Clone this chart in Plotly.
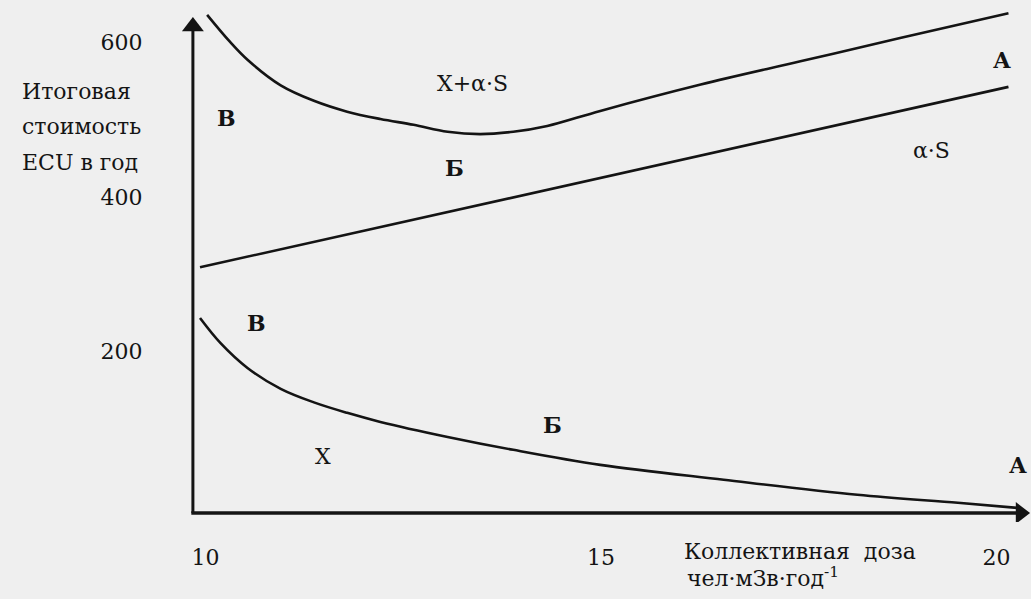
import plotly.graph_objects as go

# Collective dose, person·mSv per year (x) and cost, ECU per year (y)
dose_total = [10.02, 10.31, 10.53, 10.95, 11.37, 11.79, 12.21, 12.63, 13.06,
              13.47, 13.89, 14.32, 14.99, 16.26, 17.52, 18.78, 20.15]
cost_total = [635, 600, 577, 544, 524, 510, 500.5, 493, 484,
              481, 484, 491.5, 511, 545, 575, 605, 637]

dose_detriment = [9.93, 20.15]
cost_detriment = [309, 542]

dose_protection = [9.93, 10.19, 10.53, 10.95, 11.37, 11.79, 12.21, 13.06,
                   13.89, 14.99, 16.55, 18.24, 19.51, 20.26]
cost_protection = [243.5, 211, 179, 152, 134.5, 121, 109.3, 89.9,
                   73.2, 53.8, 34.5, 15.1, 4.8, -1.7]

x_ticks = [10, 15, 20]
y_ticks = [200, 400, 600]

x_axis_title = ["Коллективная  доза", "чел·мЗв·год<sup>-1</sup>"]
y_axis_title = ["Итоговая", "стоимость", "ECU в год"]

INK = "#141414"
SERIF = "DejaVu Serif"

fig = go.Figure()
for xs, ys, shape in [(dose_total, cost_total, "spline"),
                      (dose_detriment, cost_detriment, "linear"),
                      (dose_protection, cost_protection, "spline")]:
    fig.add_trace(go.Scatter(x=xs, y=ys, mode="lines",
                             line=dict(color=INK, width=2.6, shape=shape, smoothing=1.0),
                             hoverinfo="skip", showlegend=False))

# axes: two lines meeting at the corner, each capped by a filled triangle
x0, y0 = 9.84, -8.4
x_head, y_head = 20.303, 620
for xs, ys, w, sym in [([x0, x0], [y0, y_head], 3.0, "triangle-up"),
                       ([x0 - 0.02, x_head], [y0, y0], 3.4, "triangle-right")]:
    fig.add_trace(go.Scatter(x=xs, y=ys, mode="lines", line=dict(color=INK, width=w),
                             hoverinfo="skip", showlegend=False))
    fig.add_trace(go.Scatter(x=xs[1:], y=ys[1:], mode="markers",
                             marker=dict(symbol=sym, size=19, color=INK, line=dict(width=0)),
                             hoverinfo="skip", showlegend=False))

annotations = []

# curve and region labels
labels = [
    ("В", 10.27, 502, True), ("X+α·S", 13.38, 547, False), ("Б", 13.15, 437, True),
    ("А", 20.07, 577, True), ("α·S", 19.18, 460, False),
    ("В", 10.65, 237, True), ("X", 11.48, 64, False), ("Б", 14.39, 105, True),
    ("А", 20.27, 54, True),
]
for text, lx, ly, bold in labels:
    annotations.append(dict(
        x=lx, y=ly, xref="x", yref="y", showarrow=False,
        text=f"<b>{text}</b>" if bold else text,
        font=dict(family=SERIF, size=22, color=INK)))

# y-axis title, one line per annotation
for line, py in zip(y_axis_title, [0.8415, 0.773, 0.7045]):
    annotations.append(dict(x=-0.1688, y=py, xref="paper", yref="paper",
                            xanchor="left", yanchor="middle", showarrow=False,
                            text=line, font=dict(family=SERIF, size=22, color=INK)))

# x-axis title
for line, px, py in zip(x_axis_title, [0.5965, 0.6], [-0.0587, -0.1076]):
    annotations.append(dict(x=px, y=py, xref="paper", yref="paper",
                            xanchor="left", yanchor="middle", showarrow=False,
                            text=line, font=dict(family=SERIF, size=22, color=INK)))

fig.update_layout(
    width=1031, height=599,
    margin=dict(l=166, r=0, t=11, b=77),
    paper_bgcolor="#efefef", plot_bgcolor="#efefef",
    xaxis=dict(range=[9.5, 20.435], tickvals=x_ticks, ticktext=[str(v) for v in x_ticks],
               showgrid=False, zeroline=False, showline=False,
               ticks="outside", ticklen=16, tickcolor="rgba(0,0,0,0)",
               tickfont=dict(family=SERIF, size=22, color=INK), fixedrange=True),
    yaxis=dict(range=[-20, 640], tickvals=y_ticks, ticktext=[str(v) for v in y_ticks],
               showgrid=False, zeroline=False, showline=False,
               ticks="outside", ticklen=18, tickcolor="rgba(0,0,0,0)",
               tickfont=dict(family=SERIF, size=22, color=INK), fixedrange=True),
    annotations=annotations,
    showlegend=False,
)

fig.write_html("out.html")
